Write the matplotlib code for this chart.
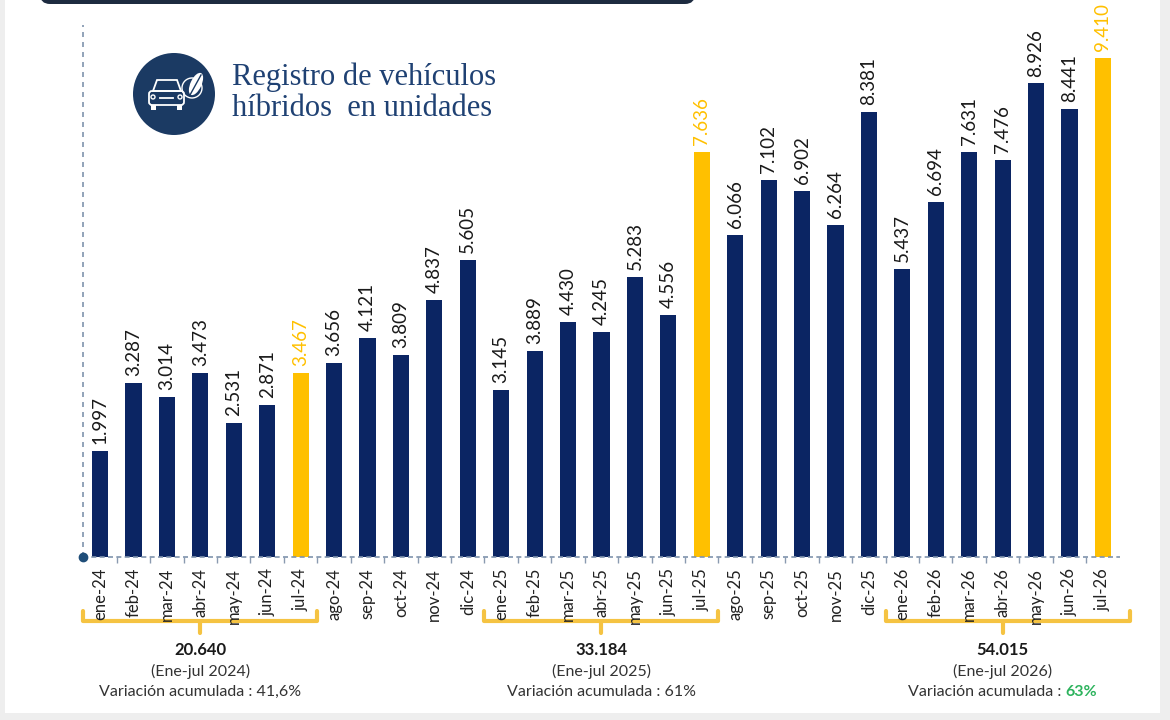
import numpy as np
import matplotlib
matplotlib.use('Agg')
import matplotlib.pyplot as plt
from matplotlib.patches import Circle, FancyBboxPatch, Rectangle, Polygon, Ellipse
from matplotlib.transforms import blended_transform_factory

plt.rcParams['font.family'] = ['Lato', 'DejaVu Sans']

months = ['ene-24', 'feb-24', 'mar-24', 'abr-24', 'may-24', 'jun-24', 'jul-24',
          'ago-24', 'sep-24', 'oct-24', 'nov-24', 'dic-24',
          'ene-25', 'feb-25', 'mar-25', 'abr-25', 'may-25', 'jun-25', 'jul-25',
          'ago-25', 'sep-25', 'oct-25', 'nov-25', 'dic-25',
          'ene-26', 'feb-26', 'mar-26', 'abr-26', 'may-26', 'jun-26', 'jul-26']
values = [1997, 3287, 3014, 3473, 2531, 2871, 3467,
          3656, 4121, 3809, 4837, 5605,
          3145, 3889, 4430, 4245, 5283, 4556, 7636,
          6066, 7102, 6902, 6264, 8381,
          5437, 6694, 7631, 7476, 8926, 8441, 9410]
highlight = ['jul-24', 'jul-25', 'jul-26']

# resumen ene-jul de cada año
groups = [(0, 6), (12, 18), (24, 30)]
group_totals = ['20.640', '33.184', '54.015']
group_periods = ['(Ene-jul 2024)', '(Ene-jul 2025)', '(Ene-jul 2026)']
group_vars = ['41,6%', '61%', '63%']

navy = '#0b2563'
yellow = '#ffc000'


def fmt(v):
    return '{:,}'.format(v).replace(',', '.')


fig = plt.figure(figsize=(11.7, 7.2), dpi=100)
W, H = 1170, 720
ax = fig.add_axes([83 / W, 1 - 557 / H, (1130 - 83) / W, 557 / H])
ax.patch.set_alpha(0)
ax.set_zorder(2)

x = np.arange(len(months))
colors = [yellow if m in highlight else navy for m in months]
ax.bar(x, values, width=0.48, color=colors, zorder=2)

for xi, v, m in zip(x, values, months):
    c = yellow if m in highlight else '#1a1a1a'
    ax.annotate(fmt(v), (xi, v), xytext=(0, 5), textcoords='offset points',
                rotation=90, ha='center', va='bottom', fontsize=13.5, color=c,
                annotation_clip=False)

ax.set_xlim(-0.51, 30.81)
ax.set_ylim(0, 10500)
for s in ax.spines.values():
    s.set_visible(False)
ax.set_yticks([])
ax.set_xticks(x)
ax.set_xticklabels(months, rotation=90, fontsize=12, color='#222222')
ax.tick_params(axis='x', which='major', length=0, pad=8)
ax.set_xticks(x[:-1] + 0.5, minor=True)
ax.tick_params(axis='x', which='minor', length=4, color='#8a9ab0', width=1)

# ejes punteados
ax.plot([-0.51, 30.5], [0, 0], ls=(0, (3, 2)), color='#7f93ad', lw=1.2, clip_on=False)
ax.plot([-0.51, -0.51], [0, 532 / 557 * 10500], ls=(0, (3, 3)), color='#7f93ad',
        lw=1.2, clip_on=False)
ax.plot([-0.51], [0], 'o', color='#1f4e79', ms=6, clip_on=False, zorder=5)

# capa de decoracion en pixeles
ov = fig.add_axes([0, 0, 1, 1])
ov.set_zorder(1)
ov.set_xlim(0, W)
ov.set_ylim(H, 0)
ov.axis('off')
ov.patch.set_alpha(0)

ov.add_patch(FancyBboxPatch((40, -20), 655, 24, boxstyle='round,pad=0,rounding_size=10',
                            color='#1d2b40', lw=0))
ov.add_patch(Rectangle((0, 0), 5, H, color='#eeeeee', lw=0))
ov.add_patch(Rectangle((1160, 0), 10, H, color='#eeeeee', lw=0))
ov.add_patch(Rectangle((0, 713), W, 7, color='#eeeeee', lw=0))

# icono
ov.add_patch(Ellipse((174, 94), 82, 82, color='#1b3a63', lw=0))
car = dict(fill=False, ec='white', lw=1.3)
ov.add_patch(FancyBboxPatch((149, 91), 35, 14, boxstyle='round,pad=0,rounding_size=3', **car))
ov.add_patch(Polygon([(153, 91), (157, 80), (177, 80), (181, 91)], closed=True, **car))
ov.add_patch(Rectangle((151, 105), 5, 5, color='white', lw=0))
ov.add_patch(Rectangle((177, 105), 5, 5, color='white', lw=0))
ov.plot([160, 173], [98, 98], color='white', lw=1.3)
ov.add_patch(Circle((153, 97), 2, fill=False, ec='white', lw=1))
ov.add_patch(Circle((180, 97), 2, fill=False, ec='white', lw=1))
ov.add_patch(Ellipse((196, 84), 11, 24, angle=25, color='white', lw=0))
ov.plot([190, 201], [95, 75], color='#1b3a63', lw=1)
ov.add_patch(Circle((192, 88), 10, fill=False, ec='white', lw=1))

ov.text(232, 77, 'Registro de vehículos', fontsize=22, color='#1f4173',
        family='Liberation Serif', va='center', ha='left')
ov.text(232, 109, 'híbridos  en unidades', fontsize=22, color='#1f4173',
        family='Liberation Serif', va='center', ha='left')

# llaves y resumen
tr = blended_transform_factory(ax.transData, ov.transData)
renderer = fig.canvas.get_renderer()
for (a, b), tot, per, var, i in zip(groups, group_totals, group_periods, group_vars, range(3)):
    x0, x1 = a - 0.5, b + 0.5 + (0.3 if i == 2 else 0)
    xm = (a + b) / 2
    ov.plot([x0, x0, x1, x1], [611, 621, 621, 611], color='#f5c342', lw=3,
            transform=tr, solid_joinstyle='round', solid_capstyle='round', zorder=0)
    ov.plot([xm, xm], [621, 633], color='#f5c342', lw=3, transform=tr,
            solid_capstyle='round')
    ov.text(xm, 650, tot, transform=tr, ha='center', va='center', fontsize=12,
            fontweight='bold', color='#1a1a1a')
    ov.text(xm, 671, per, transform=tr, ha='center', va='center', fontsize=11.5,
            color='#333333')
    if i == 2:
        tv = ov.text(xm, 692, var, transform=tr, ha='left', va='center', fontsize=11.5,
                     color='#2db35d', fontweight='bold')
        wv = tv.get_window_extent(renderer).width
        tl = ov.text(xm, 692, 'Variación acumulada : ', transform=tr, ha='right',
                     va='center', fontsize=11.5, color='#333333')
        wl = tl.get_window_extent(renderer).width
        shift = (wl - wv) / 2
        xm_px = ax.transData.transform((xm, 0))[0] + shift
        tv.set_transform(ov.transData)
        tl.set_transform(ov.transData)
        tv.set_position((xm_px, 692))
        tl.set_position((xm_px, 692))
    else:
        ov.text(xm, 692, 'Variación acumulada : ' + var, transform=tr, ha='center',
                va='center', fontsize=11.5, color='#333333')

fig.savefig('out.png', dpi=100)
